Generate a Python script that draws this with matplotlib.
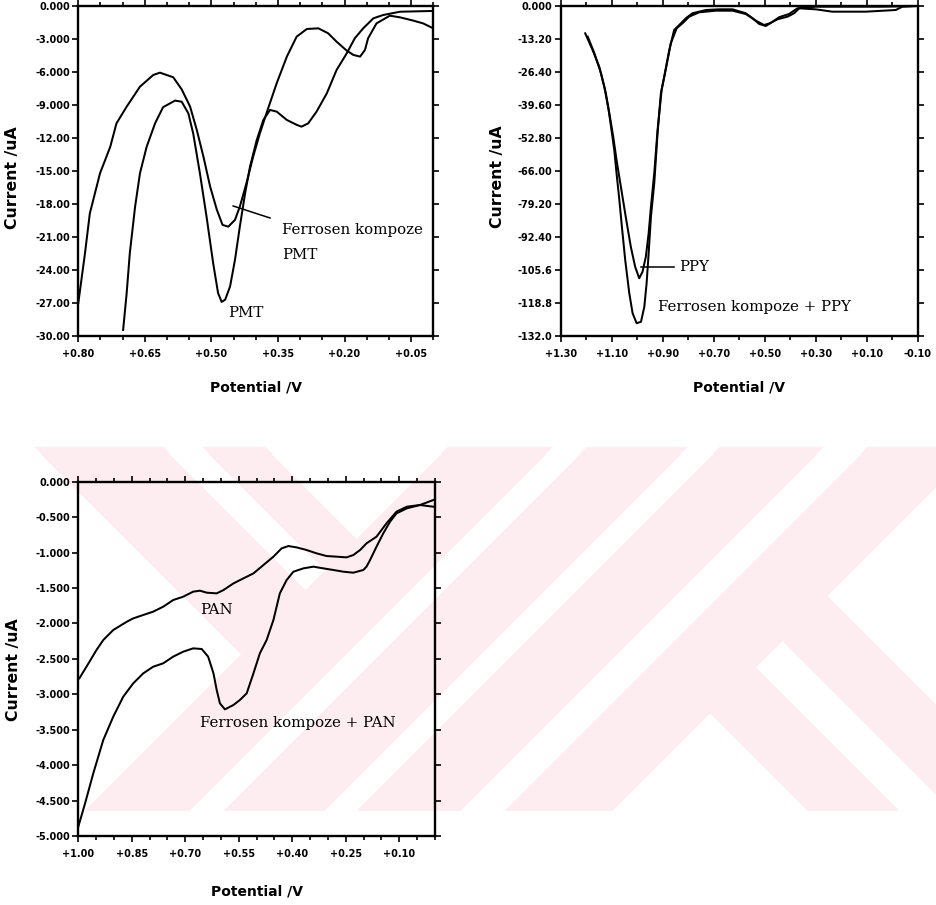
import numpy as np
import matplotlib
matplotlib.use("Agg")
import matplotlib.pyplot as plt
from matplotlib.ticker import FixedLocator, FixedFormatter

# ---------------- data: PMT panel (potential / V, current / uA) ----------------
pmt_fc_v = [0.800, 0.785, 0.774, 0.751, 0.728, 0.714, 0.691, 0.661, 0.631, 0.616,
            0.586, 0.567, 0.548, 0.533, 0.518, 0.503, 0.488, 0.475, 0.462, 0.447,
            0.436, 0.421, 0.406, 0.391, 0.376, 0.353, 0.330, 0.308, 0.285, 0.259,
            0.237, 0.218, 0.195, 0.180, 0.165, 0.154, 0.147, 0.128, 0.098, 0.075,
            0.045, 0.023, 0.000]
pmt_fc_i = [-27.0, -22.5, -18.85, -15.2, -12.8, -10.67, -9.15, -7.33, -6.27, -6.06,
            -6.48, -7.58, -9.15, -11.27, -13.7, -16.4, -18.5, -19.9, -20.06, -19.45,
            -18.24, -16.1, -13.7, -11.6, -9.76, -7.03, -4.6, -2.79, -2.09, -2.03,
            -2.48, -3.24, -4.06, -4.45, -4.6, -4.0, -2.94, -1.58, -0.88, -1.03,
            -1.33, -1.58, -2.03]
pmt_v = [0.699, 0.691, 0.684, 0.672, 0.661, 0.646, 0.627, 0.609, 0.582, 0.567,
         0.552, 0.541, 0.526, 0.511, 0.496, 0.485, 0.477, 0.469, 0.458, 0.447,
         0.436, 0.424, 0.413, 0.398, 0.383, 0.368, 0.353, 0.330, 0.308, 0.297,
         0.282, 0.263, 0.240, 0.218, 0.195, 0.177, 0.158, 0.135, 0.113, 0.075,
         0.000]
pmt_i = [-29.45, -26.1, -22.5, -18.24, -15.2, -12.8, -10.67, -9.2, -8.6, -8.7,
         -9.76, -11.6, -15.2, -19.15, -23.4, -26.1, -26.9, -26.7, -25.5, -23.1,
         -20.06, -17.0, -14.6, -12.2, -10.36, -9.45, -9.6, -10.36, -10.8, -10.97,
         -10.67, -9.6, -7.94, -5.82, -4.3, -2.94, -2.03, -1.12, -0.82, -0.52,
         -0.45]

# ---------------- data: PPY panel ----------------
ppy_fc_v = [1.205, 1.176, 1.150, 1.130, 1.113, 1.100, 1.091, 1.082, 1.071, 1.061,
            1.048, 1.032, 1.019, 1.003, 0.986, 0.973, 0.964, 0.956, 0.947, 0.934,
            0.921, 0.908, 0.895, 0.875, 0.856, 0.836, 0.810, 0.784, 0.731, 0.679,
            0.627, 0.575, 0.548, 0.522, 0.496, 0.470, 0.444, 0.405, 0.372, 0.300,
            0.169, 0.039, -0.099]
ppy_fc_i = [-10.93, -17.6, -24.27, -32.27, -41.6, -50.9, -57.6, -66.9, -77.6, -88.3,
            -101.6, -114.9, -122.9, -126.9, -126.3, -120.3, -110.9, -98.9, -84.3, -70.9,
            -50.9, -34.9, -28.3, -17.6, -9.6, -7.6, -4.9, -2.9, -1.6, -1.33,
            -1.33, -2.9, -4.9, -7.2, -8.0, -6.3, -4.5, -3.2, -0.93, -0.27,
            -0.27, -0.27, 0.0]
ppy_v = [1.195, 1.169, 1.143, 1.124, 1.108, 1.095, 1.082, 1.065, 1.045, 1.026,
         1.009, 0.993, 0.980, 0.967, 0.956, 0.947, 0.934, 0.921, 0.905, 0.888,
         0.869, 0.846, 0.823, 0.797, 0.758, 0.692, 0.627, 0.575, 0.535, 0.503,
         0.480, 0.450, 0.411, 0.385, 0.365, 0.300, 0.235, 0.104, -0.014, -0.040,
         -0.099]
ppy_i = [-12.27, -18.9, -26.9, -34.9, -44.3, -52.3, -61.6, -72.3, -84.9, -96.3,
         -104.3, -108.9, -106.3, -100.3, -90.9, -80.3, -66.9, -49.6, -33.6, -24.9,
         -14.9, -8.9, -6.9, -4.27, -2.53, -1.87, -1.87, -3.2, -5.87, -7.6,
         -6.9, -5.3, -4.27, -2.9, -0.93, -1.33, -2.27, -2.27, -1.6, -0.27,
         0.0]

# ---------------- data: PAN panel ----------------
pan_v = [0.997, 0.977, 0.949, 0.930, 0.902, 0.864, 0.846, 0.818, 0.790, 0.762,
         0.734, 0.706, 0.678, 0.659, 0.640, 0.612, 0.593, 0.565, 0.537, 0.509,
         0.481, 0.453, 0.430, 0.411, 0.388, 0.360, 0.332, 0.304, 0.276, 0.248,
         0.229, 0.210, 0.192, 0.164, 0.136, 0.108, 0.079, 0.042, 0.005]
pan_i = [-2.775, -2.61, -2.375, -2.234, -2.093, -1.976, -1.929, -1.881, -1.834, -1.764,
         -1.670, -1.623, -1.552, -1.538, -1.566, -1.576, -1.529, -1.435, -1.364, -1.294,
         -1.176, -1.058, -0.941, -0.908, -0.927, -0.964, -1.011, -1.049, -1.058, -1.068,
         -1.035, -0.964, -0.870, -0.776, -0.588, -0.423, -0.353, -0.329, -0.259]
pan_fc_v = [1.000, 0.981, 0.958, 0.930, 0.902, 0.874, 0.846, 0.818, 0.790, 0.762,
            0.734, 0.706, 0.678, 0.654, 0.636, 0.621, 0.612, 0.603, 0.589, 0.565,
            0.547, 0.528, 0.509, 0.491, 0.472, 0.453, 0.435, 0.416, 0.397, 0.369,
            0.341, 0.313, 0.285, 0.257, 0.229, 0.201, 0.192, 0.182, 0.164, 0.145,
            0.126, 0.108, 0.079, 0.042, 0.005]
pan_fc_i = [-4.868, -4.539, -4.116, -3.645, -3.316, -3.034, -2.846, -2.705, -2.611, -2.563,
            -2.469, -2.399, -2.352, -2.361, -2.469, -2.705, -2.940, -3.128, -3.213, -3.151,
            -3.081, -2.987, -2.705, -2.422, -2.234, -1.952, -1.576, -1.388, -1.270, -1.223,
            -1.199, -1.223, -1.246, -1.270, -1.284, -1.246, -1.199, -1.105, -0.917, -0.729,
            -0.564, -0.447, -0.376, -0.329, -0.353]

# ---------------- tick values and labels ----------------
pmt_xticks = [0.80, 0.65, 0.50, 0.35, 0.20, 0.05]
pmt_xlabels = ["+0.80", "+0.65", "+0.50", "+0.35", "+0.20", "+0.05"]
pmt_yticks = [0, -3, -6, -9, -12, -15, -18, -21, -24, -27, -30]
pmt_ylabels = ["0.000", "-3.000", "-6.000", "-9.000", "-12.00", "-15.00",
               "-18.00", "-21.00", "-24.00", "-27.00", "-30.00"]

ppy_xticks = [1.30, 1.10, 0.90, 0.70, 0.50, 0.30, 0.10, -0.10]
ppy_xlabels = ["+1.30", "+1.10", "+0.90", "+0.70", "+0.50", "+0.30", "+0.10", "-0.10"]
ppy_yticks = [0, -13.2, -26.4, -39.6, -52.8, -66.0, -79.2, -92.4, -105.6, -118.8, -132.0]
ppy_ylabels = ["0.000", "-13.20", "-26.40", "-39.60", "-52.80", "-66.00",
               "-79.20", "-92.40", "-105.6", "-118.8", "-132.0"]

pan_xticks = [1.00, 0.85, 0.70, 0.55, 0.40, 0.25, 0.10]
pan_xlabels = ["+1.00", "+0.85", "+0.70", "+0.55", "+0.40", "+0.25", "+0.10"]
pan_yticks = [0, -0.5, -1.0, -1.5, -2.0, -2.5, -3.0, -3.5, -4.0, -4.5, -5.0]
pan_ylabels = ["0.000", "-0.500", "-1.000", "-1.500", "-2.000", "-2.500",
               "-3.000", "-3.500", "-4.000", "-4.500", "-5.000"]

W, H = 936, 905
fig = plt.figure(figsize=(W / 100, H / 100), dpi=100)

# ---------------- faint striped background emblem ----------------
yy, xx = np.mgrid[0:H, 0:W] + 0.5
u = xx + yy
v = xx - yy
band = (yy >= 448) & (yy <= 811)
diag = ((u >= 896) & (u <= 1000)) | ((u >= 1035) & (u <= 1135)) | \
       ((u >= 1168) & (u <= 1271)) | ((u >= 1316) & (u <= 1423))
kpart = (u > 1423) & (((v >= -3) & (v <= 88)) | ((v >= 142) & (v <= 231)))
left = (u < 896) & (((v >= -413) & (v <= -285)) | ((v >= -245) & (v <= -183)))
mask = band & (diag | kpart | left)
rgba = np.ones((H, W, 4))
rgba[mask, 0] = 253 / 255
rgba[mask, 1] = 237 / 255
rgba[mask, 2] = 241 / 255
bg = fig.add_axes([0, 0, 1, 1], zorder=-10)
bg.imshow(rgba, interpolation="nearest", aspect="auto", extent=(0, W, H, 0))
bg.set_xlim(0, W)
bg.set_ylim(H, 0)
bg.axis("off")

xlabel_font = dict(family="DejaVu Sans", weight="bold", size=10)
ylabel_font = dict(family="DejaVu Sans", weight="bold", size=11.3)
note_font = dict(family="DejaVu Serif", size=10.8)


def style_axes(ax, xlim, ylim, xticks, xlabels, minor_step, yticks, ylabels,
               xlab_pos, ylab_pos):
    ax.set_facecolor("none")
    ax.set_xlim(*xlim)
    ax.set_ylim(*ylim)
    ax.xaxis.set_major_locator(FixedLocator(xticks))
    ax.xaxis.set_major_formatter(FixedFormatter(xlabels))
    lo, hi = min(xlim), max(xlim)
    n = int(round((hi - lo) / minor_step))
    ax.xaxis.set_minor_locator(FixedLocator([lo + k * minor_step for k in range(n + 1)]))
    ax.yaxis.set_major_locator(FixedLocator(yticks))
    ax.yaxis.set_major_formatter(FixedFormatter(ylabels))
    for s in ax.spines.values():
        s.set_linewidth(1.7)
    ax.tick_params(which="both", direction="out", top=True, right=True,
                   width=1.2, colors="black")
    ax.tick_params(which="major", length=4, pad=2, labelsize=7)
    ax.tick_params(which="minor", length=3)
    for lab in ax.get_xticklabels() + ax.get_yticklabels():
        lab.set_fontweight("bold")
    ax.tick_params(axis="x", which="major", pad=5)
    ax.set_xlabel("Potential /V", va="center", **xlabel_font)
    ax.set_ylabel("Current /uA", va="center", **ylabel_font)
    ax.xaxis.set_label_coords(*xlab_pos)
    ax.yaxis.set_label_coords(*ylab_pos)


lw = 1.45

# ---------------- PMT panel ----------------
ax1 = fig.add_axes([78.3 / W, 1 - 336 / H, 355 / W, 330 / H])
ax1.plot(pmt_fc_v, pmt_fc_i, color="black", lw=lw)
ax1.plot(pmt_v, pmt_i, color="black", lw=lw)
style_axes(ax1, (0.80, 0.00), (-30, 0), pmt_xticks, pmt_xlabels, 0.05,
           pmt_yticks, pmt_ylabels, (0.5, -0.155), (-0.184, 0.479))
ax1.plot([0.368, 0.451], [-19.27, -18.18], color="black", lw=1.1)
ax1.text(0.341, -20.36, "Ferrosen kompoze", ha="left", va="center", **note_font)
ax1.text(0.341, -22.6, "PMT", ha="left", va="center", **note_font)
ax1.text(0.462, -27.9, "PMT", ha="left", va="center", **note_font)

# ---------------- PPY panel ----------------
ax2 = fig.add_axes([561 / W, 1 - 336 / H, 356.7 / W, 330 / H])
ax2.plot(ppy_fc_v, ppy_fc_i, color="black", lw=lw)
ax2.plot(ppy_v, ppy_i, color="black", lw=lw)
style_axes(ax2, (1.30, -0.10), (-132, 0), ppy_xticks, ppy_xlabels, 0.10,
           ppy_yticks, ppy_ylabels, (0.499, -0.155), (-0.1775, 0.483))
ax2.plot([0.986, 0.857], [-104.3, -104.3], color="black", lw=1.1)
ax2.text(0.837, -104.3, "PPY", ha="left", va="center", **note_font)
ax2.text(0.921, -120.3, "Ferrosen kompoze + PPY", ha="left", va="center", **note_font)

# ---------------- PAN panel ----------------
ax3 = fig.add_axes([78.3 / W, 1 - 836 / H, 356.7 / W, 354.3 / H])
ax3.plot(pan_v, pan_i, color="black", lw=lw)
ax3.plot(pan_fc_v, pan_fc_i, color="black", lw=lw)
style_axes(ax3, (1.00, 0.00), (-5, 0), pan_xticks, pan_xlabels, 0.05,
           pan_yticks, pan_ylabels, (0.501, -0.157), (-0.182, 0.4685))
ax3.text(0.659, -1.81, "PAN", ha="left", va="center", **note_font)
ax3.text(0.659, -3.41, "Ferrosen kompoze + PAN", ha="left", va="center", **note_font)

fig.savefig("out.png", dpi=100)
